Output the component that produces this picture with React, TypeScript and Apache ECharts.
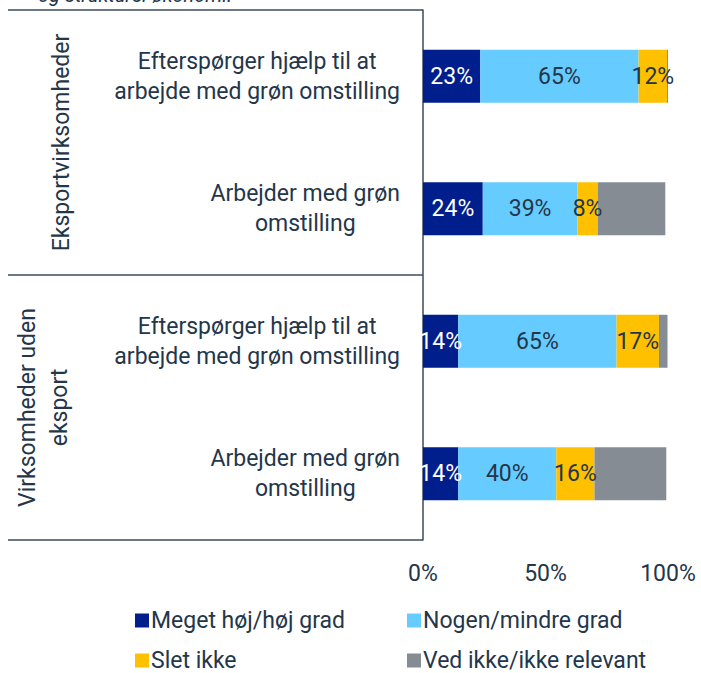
import React, { useEffect, useRef } from "react";
import * as echarts from "echarts";

const categories = [
  "Efterspørger hjælp til at\narbejde med grøn omstilling",
  "Arbejder med grøn\nomstilling",
  "Efterspørger hjælp til at\narbejde med grøn omstilling",
  "Arbejder med grøn\nomstilling",
];
const groups = ["Eksportvirksomheder", "Virksomheder uden\neksport"];
const seriesNames = [
  "Meget høj/høj grad",
  "Nogen/mindre grad",
  "Slet ikke",
  "Ved ikke/ikke relevant",
];
const highValues = [23.4, 24.4, 14.4, 14.4];
const someValues = [64.6, 38.6, 64.6, 40.0];
const notValues = [11.6, 8.3, 17.3, 15.6];
const dkValues = [0.4, 27.6, 3.5, 29.3];
const xTicks = [0, 50, 100];

const COLORS = ["#001e8c", "#66ccff", "#ffc000", "#858c93"];
const TEXT = "#24364a";
const LINE = "#3b4b5c";
const FONT = "Roboto, 'Noto Sans', sans-serif";

export default function App() {
  const ref = useRef<HTMLDivElement>(null);
  useEffect(() => {
    document.body.style.margin = "0";
    if (!ref.current) return;
    const chart = echarts.init(ref.current, null, { renderer: "svg" });
    const gridLeft = 423;
    const gridTop = 10;
    const gridHeight = 530;
    const lineLeft = 8;
    const mkLabel = (color: string, show: boolean) => ({
      show,
      position: "inside" as const,
      color,
      fontSize: 23,
      fontFamily: FONT,
      formatter: (p: any) => `${Math.round(p.value)}%`,
    });
    const data = [highValues, someValues, notValues, dkValues];
    // legend placement: 2 columns x 2 rows
    const legendPos = [
      { left: 130, top: 606 },
      { left: 402, top: 606 },
      { left: 130, top: 646 },
      { left: 402, top: 646 },
    ];
    chart.setOption({
      animation: false,
      grid: { left: gridLeft, right: 33, top: gridTop, height: gridHeight },
      xAxis: {
        type: "value",
        min: xTicks[0],
        max: xTicks[xTicks.length - 1],
        interval: 50,
        axisLine: { show: false },
        axisTick: { show: false },
        splitLine: { show: false },
        axisLabel: {
          formatter: "{value}%",
          color: TEXT,
          fontSize: 23,
          fontFamily: FONT,
          margin: 22,
        },
      },
      yAxis: {
        type: "category",
        inverse: true,
        data: categories,
        axisLine: { show: true, lineStyle: { color: LINE, width: 1.5 } },
        axisTick: { show: false },
        axisLabel: {
          align: "right",
          margin: 23,
          formatter: (v: string) =>
            v
              .split("\n")
              .map((l) => `{c|${l}}`)
              .join("\n"),
          rich: {
            c: {
              align: "center",
              fontSize: 23,
              lineHeight: 30,
              color: TEXT,
              fontFamily: FONT,
            },
          },
        },
      },
      legend: seriesNames.map((name, i) => ({
        data: [name],
        left: legendPos[i].left,
        top: legendPos[i].top,
        padding: [3, 5, 3, 5],
        itemWidth: 14,
        itemHeight: 14,
        icon: "rect",
        selectedMode: false,
        textStyle: {
          color: TEXT,
          fontSize: 23,
          fontFamily: FONT,
          padding: [0, 0, 0, -3],
        },
      })),
      series: seriesNames.map((name, i) => ({
        name,
        type: "bar",
        stack: "total",
        barWidth: 53,
        data: data[i],
        itemStyle: { color: COLORS[i] },
        label: mkLabel(i === 0 ? "#ffffff" : TEXT, i < 3),
      })),
      graphic: [
        {
          type: "text",
          left: 38,
          top: -15,
          style: {
            text: "og strukturel økonomi.",
            fontSize: 20,
            fontStyle: "italic",
            fontFamily: FONT,
            fill: TEXT,
          },
        },
        ...[0, 0.5, 1].map((f) => ({
          type: "line",
          shape: {
            x1: lineLeft,
            y1: gridTop + gridHeight * f,
            x2: gridLeft,
            y2: gridTop + gridHeight * f,
          },
          style: { stroke: LINE, lineWidth: 1.5 },
        })),
        {
          type: "text",
          x: 61,
          y: gridTop + gridHeight * 0.25,
          rotation: Math.PI / 2,
          style: {
            text: groups[0],
            align: "center",
            verticalAlign: "middle",
            fontSize: 23,
            lineHeight: 30,
            fontFamily: FONT,
            fill: TEXT,
          },
        },
        {
          type: "text",
          x: 43,
          y: gridTop + gridHeight * 0.75,
          rotation: Math.PI / 2,
          style: {
            text: groups[1],
            align: "center",
            verticalAlign: "middle",
            fontSize: 23,
            lineHeight: 32,
            fontFamily: FONT,
            fill: TEXT,
          },
        },
      ],
    });
    return () => chart.dispose();
  }, []);
  return <div ref={ref} style={{ width: 701, height: 673 }} />;
}
